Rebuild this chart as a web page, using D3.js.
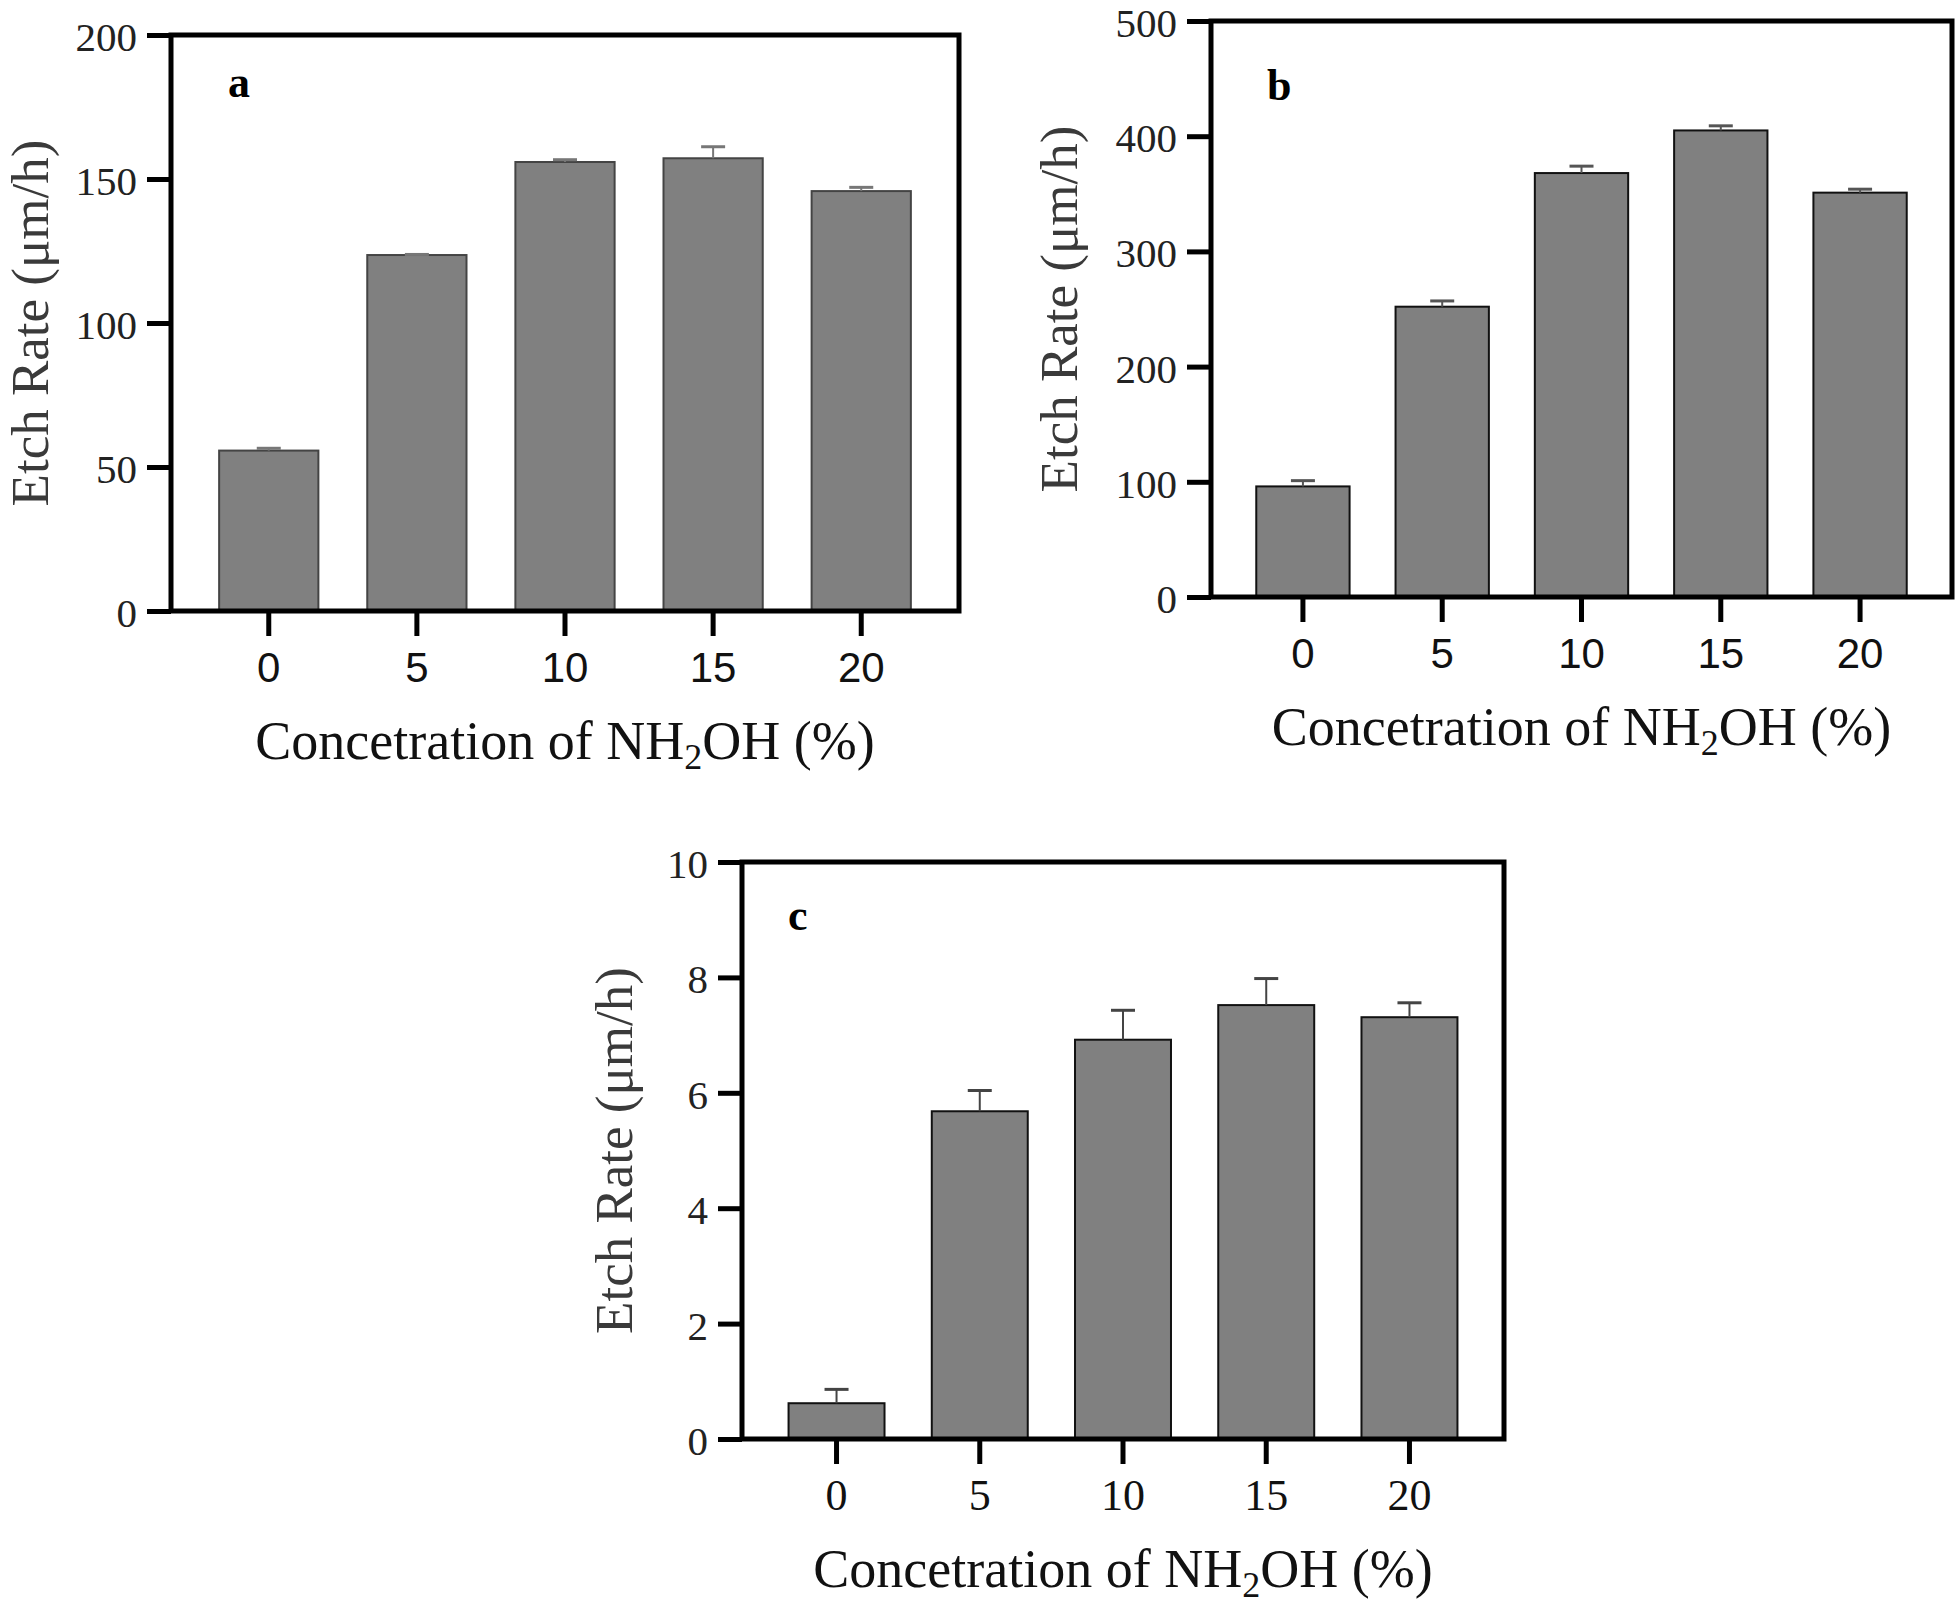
<!DOCTYPE html>
<html>
<head>
<meta charset="utf-8">
<script src="https://cdn.jsdelivr.net/npm/d3@7"></script>
<style>
  html, body { margin: 0; padding: 0; background: #fff; }
  svg { display: block; }
</style>
</head>
<body>
<svg id="chart" width="1960" height="1606"></svg>
<script>
// ---- data ----
const categories = ["0", "5", "10", "15", "20"];

const rateA = [55.7, 123.6, 155.9, 157.2, 145.8];
const errA  = [0.8, 0.2, 0.8, 4.0, 1.3];
const ticksA = [0, 50, 100, 150, 200];

const rateB = [96, 252, 368, 405, 351];
const errB  = [5, 5, 6, 4, 3];
const ticksB = [0, 100, 200, 300, 400, 500];

const rateC = [0.62, 5.68, 6.92, 7.52, 7.31];
const errC  = [0.24, 0.36, 0.51, 0.46, 0.25];
const ticksC = [0, 2, 4, 6, 8, 10];

const yTitle = "Etch Rate (\u03bcm/h)";
const panelLabels = ["a", "b", "c"];

// ---- drawing ----
const svg = d3.select("#chart");
const SERIF = "'Liberation Serif', 'Times New Roman', serif";
const SANS = "'Liberation Sans', Arial, sans-serif";

function drawPanel(p) {
  const g = svg.append("g");
  const x = d3.scaleBand().domain(categories).range([p.left, p.right])
    .paddingInner(0.33).paddingOuter(0.325);
  const y = d3.scaleLinear().domain([0, d3.max(p.ticks)]).range([p.bottom, p.top]);

  // bars
  g.selectAll("rect.bar").data(p.values).enter().append("rect")
    .attr("class", "bar")
    .attr("x", (d, i) => x(categories[i]))
    .attr("width", x.bandwidth())
    .attr("y", d => y(d))
    .attr("height", d => y(0) - y(d))
    .attr("fill", "#808080")
    .attr("stroke", p.barStroke)
    .attr("stroke-width", 2);

  // error bars (upper only)
  const eb = g.selectAll("g.err").data(p.values).enter().append("g");
  eb.append("line")
    .attr("x1", (d, i) => x(categories[i]) + x.bandwidth() / 2)
    .attr("x2", (d, i) => x(categories[i]) + x.bandwidth() / 2)
    .attr("y1", d => y(d))
    .attr("y2", (d, i) => y(d + p.errors[i]))
    .attr("stroke", p.errStroke).attr("stroke-width", 2);
  eb.append("line")
    .attr("x1", (d, i) => x(categories[i]) + x.bandwidth() / 2 - 12)
    .attr("x2", (d, i) => x(categories[i]) + x.bandwidth() / 2 + 12)
    .attr("y1", (d, i) => y(d + p.errors[i]))
    .attr("y2", (d, i) => y(d + p.errors[i]))
    .attr("stroke", p.errStroke).attr("stroke-width", 3);

  // frame
  g.append("rect")
    .attr("x", p.left).attr("y", p.top)
    .attr("width", p.right - p.left).attr("height", p.bottom - p.top)
    .attr("fill", "none").attr("stroke", "#000").attr("stroke-width", 5);

  // y axis
  const ya = g.append("g").attr("transform", `translate(${p.left},0)`)
    .call(d3.axisLeft(y).tickValues(p.ticks).tickSize(24).tickPadding(10));
  ya.select(".domain").remove();
  ya.selectAll(".tick line").attr("stroke", "#000").attr("stroke-width", 5);
  ya.selectAll(".tick text").attr("font-family", SERIF).attr("font-size", 41)
    .attr("fill", "#222").attr("dy", "0.38em");

  // x axis
  const xa = g.append("g").attr("transform", `translate(0,${p.bottom})`)
    .call(d3.axisBottom(x).tickSize(25).tickPadding(0));
  xa.select(".domain").remove();
  xa.selectAll(".tick line").attr("stroke", "#000").attr("stroke-width", 5);
  xa.selectAll(".tick text").attr("font-family", p.xFont).attr("font-size", p.xFontSize)
    .attr("fill", "#111").attr("dy", 0).attr("y", 71);

  // y title
  g.append("text")
    .attr("transform", `translate(${p.yTitleX},${(p.top + p.bottom) / 2}) rotate(-90)`)
    .attr("text-anchor", "middle")
    .attr("font-family", SERIF).attr("font-size", 53).attr("fill", "#3a3a3a")
    .text(yTitle);

  // x title with subscript
  const xt = g.append("text")
    .attr("x", (p.left + p.right) / 2).attr("y", p.bottom + 148)
    .attr("text-anchor", "middle")
    .attr("font-family", SERIF).attr("font-size", 54).attr("fill", "#111");
  xt.append("tspan").text("Concetration of NH");
  xt.append("tspan").attr("font-size", 36).attr("dy", 10).text("2");
  xt.append("tspan").attr("dy", -10).text("OH (%)");

  // panel label
  g.append("text")
    .attr("x", p.left + p.labelDX).attr("y", p.top + p.labelDY)
    .attr("font-family", SERIF).attr("font-weight", "bold").attr("font-size", 44)
    .attr("fill", "#000").text(p.label);
}

drawPanel({
  left: 171, right: 959, top: 35, bottom: 611,
  values: rateA, errors: errA, ticks: ticksA,
  barStroke: "#444", errStroke: "#777",
  xFont: SANS, xFontSize: 42, yTitleX: 48,
  label: panelLabels[0], labelDX: 57, labelDY: 62
});

drawPanel({
  left: 1211, right: 1952, top: 21, bottom: 597,
  values: rateB, errors: errB, ticks: ticksB,
  barStroke: "#111", errStroke: "#555",
  xFont: SANS, xFontSize: 42, yTitleX: 1077,
  label: panelLabels[1], labelDX: 56, labelDY: 79
});

drawPanel({
  left: 742, right: 1504, top: 862, bottom: 1439,
  values: rateC, errors: errC, ticks: ticksC,
  barStroke: "#111", errStroke: "#444",
  xFont: SERIF, xFontSize: 44, yTitleX: 632,
  label: panelLabels[2], labelDX: 46, labelDY: 68
});
</script>
</body>
</html>
